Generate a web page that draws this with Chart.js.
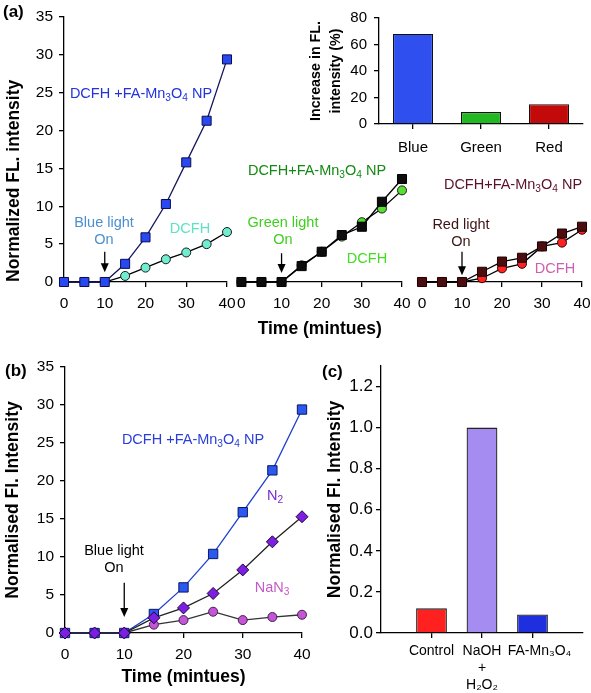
<!DOCTYPE html>
<html>
<head>
<meta charset="utf-8">
<script src="https://cdn.jsdelivr.net/npm/chart.js@4.4.1/dist/chart.umd.min.js"></script>
<style>
html, body { margin: 0; padding: 0; background: #fff; }
#fig { position: relative; width: 591px; height: 693px; overflow: hidden; font-family: 'Liberation Sans', Arial, sans-serif; }
#fig canvas { position: absolute; }
.note { position: absolute; transform: translate(-50%, -50%); white-space: nowrap; text-align: center; font-size: 14.5px; line-height: 17px; }
.note sub { font-size: 70%; vertical-align: -0.3em; line-height: 0; }
.tag { position: absolute; font-weight: bold; font-size: 17px; }
</style>
</head>
<body>
<div id="fig">
  <canvas id="a1" width="240" height="340" style="left:0;top:0"></canvas>
  <canvas id="a2" width="180" height="340" style="left:230px;top:0"></canvas>
  <canvas id="a3" width="195" height="340" style="left:410px;top:0"></canvas>
  <canvas id="inset" width="311" height="170" style="left:280px;top:0"></canvas>
  <canvas id="b" width="312" height="353" style="left:0;top:340px"></canvas>
  <canvas id="c" width="291" height="353" style="left:300px;top:340px"></canvas>

  <div class="tag" style="left:3px;top:2px">(a)</div>
  <div class="tag" style="left:5px;top:361px">(b)</div>
  <div class="tag" style="left:322px;top:362px">(c)</div>

  <div class="note" style="left:141px;top:93px;color:#2233dd">DCFH +FA-Mn<sub>3</sub>O<sub>4</sub> NP</div>
  <div class="note" style="left:104px;top:231px;color:#4b8fd0">Blue light<br>On</div>
  <div class="note" style="left:190px;top:228px;color:#5de3c3">DCFH</div>

  <div class="note" style="left:317px;top:170px;color:#138a13">DCFH+FA-Mn<sub>3</sub>O<sub>4</sub> NP</div>
  <div class="note" style="left:283px;top:231px;color:#3fcf1f">Green light<br>On</div>
  <div class="note" style="left:367px;top:258px;color:#44dd22">DCFH</div>

  <div class="note" style="left:513px;top:184px;color:#5b1228">DCFH+FA-Mn<sub>3</sub>O<sub>4</sub> NP</div>
  <div class="note" style="left:461px;top:233px;color:#3b1414">Red light<br>On</div>
  <div class="note" style="left:555px;top:268px;color:#cc5fb0">DCFH</div>

  <div class="note" style="left:193px;top:439px;color:#2a3fd8">DCFH +FA-Mn<sub>3</sub>O<sub>4</sub> NP</div>
  <div class="note" style="left:275px;top:495px;color:#7b2bd0">N<sub>2</sub></div>
  <div class="note" style="left:272px;top:587px;color:#c35cc6">NaN<sub>3</sub></div>
  <div class="note" style="left:114px;top:559px;color:#000">Blue light<br>On</div>
</div>
<script>
// time axis shared by every kinetics panel
const timeMin = [0, 5, 10, 15, 20, 25, 30, 35, 40];
const timeTicks = [0, 10, 20, 30, 40];
const intensityTicks = [0, 5, 10, 15, 20, 25, 30, 35];

// (a) blue / green / red light
const blueNP = [0, 0, 0, 2.4, 5.9, 10.3, 15.8, 21.3, 29.4];
const blueDCFH = [0, 0, 0, 0.8, 1.9, 3.0, 3.9, 5.0, 6.6];
const greenNP = [0, 0, 0, 2.1, 4.0, 6.2, 7.3, 10.6, 13.6];
const greenDCFH = [0, 0, 0, 2.2, 4.0, 6.0, 7.9, 9.7, 12.1];
const redNP = [0, 0, 0, 1.35, 2.7, 3.2, 4.7, 6.4, 7.3];
const redDCFH = [0, 0, 0, 0.5, 1.8, 2.4, 4.7, 5.2, 6.9];

// (a) inset
const lightNames = ['Blue', 'Green', 'Red'];
const lightIncrease = [68, 9, 15];
const increaseTicks = [0, 20, 40, 60, 80];

// (b) scavengers
const bNP = [0, 0, 0, 2.5, 6.0, 10.4, 15.9, 21.4, 29.4];
const bN2 = [0, 0, 0, 2.0, 3.3, 5.2, 8.3, 12.0, 15.3];
const bNaN3 = [0, 0, 0, 1.1, 1.7, 2.8, 1.7, 2.1, 2.4];

// (c) controls
const cNames = ['Control', ['NaOH', '+', 'H\u2082O\u2082'], '\u2003FA-Mn\u2083O\u2084'];
const cValues = [0.12, 1.0, 0.09];
const cTicks = [0, 0.2, 0.4, 0.6, 0.8, 1.0, 1.2];

Chart.defaults.font.family = "'Liberation Sans', Arial, sans-serif";
Chart.defaults.font.size = 15.5;
Chart.defaults.color = '#000';
Chart.defaults.animation = false;
Chart.defaults.responsive = false;
Chart.defaults.plugins.legend.display = false;
Chart.defaults.plugins.tooltip.enabled = false;

const titleFont = { weight: 'bold', size: 17.5 };

// arrow "light on" drawn in data coordinates
const lightArrow = {
    id: 'lightArrow',
    afterDatasetsDraw(chart, args, opts) {
        if (!opts.at) return;
        const { ctx, scales: { x, y } } = chart;
        const px = x.getPixelForValue(opts.at[0]);
        const top = y.getPixelForValue(opts.at[1]);
        const tip = y.getPixelForValue(opts.at[2]);
        ctx.save();
        ctx.strokeStyle = '#000';
        ctx.fillStyle = '#000';
        ctx.lineWidth = 1.3;
        ctx.beginPath();
        ctx.moveTo(px, top);
        ctx.lineTo(px, tip - 8);
        ctx.stroke();
        ctx.beginPath();
        ctx.moveTo(px - 4, tip - 9);
        ctx.lineTo(px + 4, tip - 9);
        ctx.lineTo(px, tip);
        ctx.closePath();
        ctx.fill();
        ctx.restore();
    }
};

const axisLine = () => ({
    border: { color: '#000', width: 1.3 },
    grid: { display: true, drawOnChartArea: false, color: '#000', lineWidth: 1.3, tickLength: 5 }
});

// fixed box sizes so the plot areas line up with each other
const fixHeight = h => s => { s.height = h; s.paddingLeft = 0; s.paddingRight = 0; };
const fixWidth = w => s => { s.width = w; s.paddingTop = 0; s.paddingBottom = 0; };

function series(values, fill, edge, line, style, radius) {
    return {
        data: timeMin.map((t, i) => ({ x: t, y: values[i] })),
        borderColor: line,
        borderWidth: 1.3,
        pointStyle: style,
        pointRadius: radius,
        pointBackgroundColor: fill,
        pointBorderColor: edge,
        pointBorderWidth: 1,
        clip: false,
        tension: 0
    };
}

function timeAxis(min, height, title, titlePad) {
    return Object.assign(axisLine(), {
        type: 'linear',
        min: min,
        max: 40,
        afterBuildTicks: s => { s.ticks = timeTicks.map(v => ({ value: v })); },
        afterFit: fixHeight(height),
        ticks: { autoSkip: false, maxRotation: 0, padding: 7 },
        title: title ? { display: true, text: title, font: titleFont, padding: { top: 0, bottom: titlePad } } : { display: false }
    });
}

function intensityAxis(width, title, titlePad, align) {
    return Object.assign(axisLine(), {
        min: 0,
        max: 35,
        afterBuildTicks: s => { s.ticks = intensityTicks.map(v => ({ value: v })); },
        afterFit: fixWidth(width),
        ticks: { padding: 6 },
        title: { display: true, text: title, font: titleFont, align: align, padding: { top: titlePad, bottom: 0 } }
    });
}

function kinetics(id, datasets, xAxis, yAxis, pad, arrow) {
    return new Chart(document.getElementById(id), {
        type: 'line',
        data: { datasets: datasets },
        options: {
            layout: { padding: pad },
            scales: { x: xAxis, y: yAxis },
            plugins: { lightArrow: { at: arrow } }
        },
        plugins: [lightArrow]
    });
}

// (a) blue light
kinetics('a1', [
    series(blueNP, '#2849f0', '#0b0b50', '#151560', 'rect', 6.4),
    series(blueDCFH, '#70ecd0', '#1a1a1a', '#000', 'circle', 4.5)
], timeAxis(0, 58), intensityAxis(64, 'Normalized FL. intensity', 4, 'start'),
   { left: 0, top: 17, right: 13, bottom: 0 }, [10, 4.0, 1.3]);

// (a) green light
kinetics('a2', [
    series(greenNP, '#0d0d0d', '#000', '#000', 'rect', 6.4),
    series(greenDCFH, '#55e030', '#1a1a1a', '#000', 'circle', 4.5)
], timeAxis(-1, 58, 'Time (mintues)', 0), { display: false, min: 0, max: 35 },
   { left: 7, top: 17, right: 8, bottom: 0 }, [10, 3.8, 1.2]);

// (a) red light
kinetics('a3', [
    series(redNP, '#4b0d0d', '#200000', '#000', 'rect', 6.4),
    series(redDCFH, '#ff2222', '#300000', '#000', 'circle', 4.5)
], timeAxis(-1, 58), { display: false, min: 0, max: 35 },
   { left: 8, top: 17, right: 23, bottom: 0 }, [10, 4.0, 0.9]);

// (a) inset: increase per light colour
new Chart(document.getElementById('inset'), {
    type: 'bar',
    data: {
        labels: lightNames,
        datasets: [{
            data: lightIncrease,
            backgroundColor: ['#2f4fee', '#22b822', '#c20a0a'],
            borderColor: '#111',
            borderWidth: 1.2,
            barPercentage: 0.59,
            categoryPercentage: 1
        }]
    },
    options: {
        layout: { padding: { left: 0, top: 18, right: 8, bottom: 0 } },
        scales: {
            x: Object.assign(axisLine(), {
                offset: true,
                afterFit: fixHeight(46),
                ticks: { font: { size: 15 }, padding: 10 }
            }),
            y: Object.assign(axisLine(), {
                min: 0,
                max: 80,
                afterBuildTicks: s => { s.ticks = increaseTicks.map(v => ({ value: v })); },
                afterFit: fixWidth(99),
                ticks: { font: { size: 15 }, padding: 7 },
                title: {
                    display: true,
                    text: ['Increase in FL.', 'intensity (%)'],
                    font: { weight: 'bold', size: 14.3, lineHeight: 1.4 },
                    padding: { top: 26, bottom: 0 }
                }
            })
        }
    }
});
Chart.getChart('inset').options.scales.x.grid.offset = false;
Chart.getChart('inset').update();

// (b) blue light with scavengers
kinetics('b', [
    series(bN2, '#7d1fe0', '#200040', '#222', 'rectRot', 6),
    series(bNP, '#2a58f0', '#0a1a60', '#2040d0', 'rect', 6.6),
    series(bNaN3, '#c455d4', '#402050', '#333', 'circle', 4.5)
], timeAxis(0, 60, 'Time (mintues)', 5), intensityAxis(65, 'Normalised Fl. Intensity', 2.5, 'center'),
   { left: 0, top: 27, right: 10, bottom: 0 }, [10, 6.6, 2.1]);

// (c) controls
new Chart(document.getElementById('c'), {
    type: 'bar',
    data: {
        labels: [''].concat(cNames, ['']),
        datasets: [{
            data: [null].concat(cValues, [null]),
            backgroundColor: [null, '#ff2020', '#a58cf0', '#1f2fe0', null],
            borderColor: '#222',
            borderWidth: 1.3,
            barPercentage: 0.61,
            categoryPercentage: 1
        }]
    },
    options: {
        layout: { padding: { left: 0, top: 26, right: 8, bottom: 0 } },
        scales: {
            x: Object.assign(axisLine(), {
                offset: false,
                afterFit: fixHeight(60),
                ticks: { autoSkip: false, maxRotation: 0, font: { size: 14, lineHeight: 1.2 }, padding: 5 }
            }),
            y: Object.assign(axisLine(), {
                min: 0,
                max: 1.3,
                afterBuildTicks: s => { s.ticks = cTicks.map(v => ({ value: v })); },
                afterFit: fixWidth(81),
                ticks: { padding: 3, font: { size: 17 }, callback: v => v.toFixed(1) },
                title: { display: true, text: 'Normalised Fl. Intensity', font: titleFont, padding: { top: 24.5, bottom: 0 } }
            })
        }
    }
});
const cChart = Chart.getChart('c');
cChart.options.scales.x.grid.offset = false;
cChart.options.scales.x.grid.tickColor = ctx => (ctx.index === 0 || ctx.index === 4) ? 'rgba(0,0,0,0)' : '#000';
cChart.update();
</script>
</body>
</html>
